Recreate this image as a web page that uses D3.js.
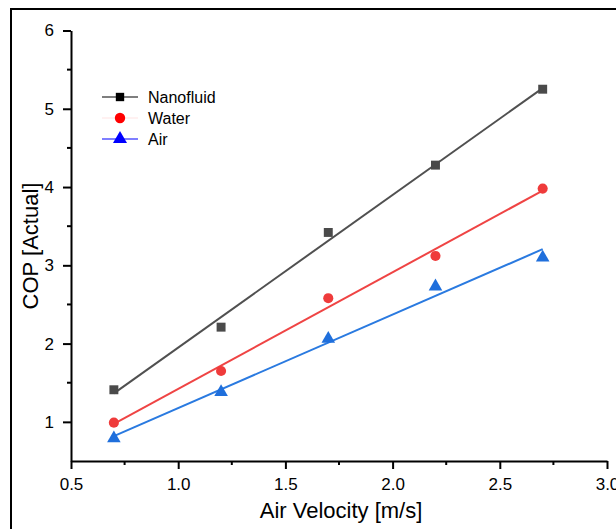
<!DOCTYPE html>
<html>
<head>
<meta charset="utf-8">
<script src="https://cdn.jsdelivr.net/npm/d3@7"></script>
<style>
	body { margin: 0; background: #fff; }
	#chart { width: 616px; height: 529px; }
</style>
</head>
<body>
<div id="chart"></div>
<script>
var id = 'chart';

// data
var velocity = [0.7, 1.2, 1.7, 2.2, 2.7];
var nanofluid = [1.41, 2.21, 3.42, 4.28, 5.25];
var water = [0.99, 1.65, 2.58, 3.12, 3.98];
var air = [0.79, 1.38, 2.06, 2.73, 3.1];
var seriesNames = ['Nanofluid', 'Water', 'Air'];
var xTicks = [0.5, 1.0, 1.5, 2.0, 2.5, 3.0];
var yTicks = [1, 2, 3, 4, 5, 6];

var series = [
	{name: seriesNames[0], values: nanofluid, shape: d3.symbolSquare, fill: '#4a4a4a', line: '#505050', legFill: '#000', legLine: '#000'},
	{name: seriesNames[1], values: water, shape: d3.symbolCircle, fill: '#ef3b3b', line: '#ef4444', legFill: '#ff0000', legLine: '#ffe4e4'},
	{name: seriesNames[2], values: air, shape: d3.symbolTriangle, fill: '#1f6fdc', line: '#2a7ae0', legFill: '#0000ff', legLine: '#0000ff'}
];

var svg = d3.select('#' + id)
	.append('svg')
	.attr('width', 616)
	.attr('height', 529)
	.style('font-family', '"Liberation Sans", Arial, sans-serif');

// frame around the figure (cropped at right / bottom)
svg.append('path')
	.attr('d', 'M11,529V9H616')
	.attr('fill', 'none')
	.attr('stroke', '#000')
	.attr('stroke-width', 2);

var x = d3.scaleLinear().domain([0.5, 3.0]).range([71, 607]);
var y = d3.scaleLinear().domain([0.5, 6]).range([461, 30.5]);

// minor ticks
var xMinor = d3.range(0.75, 3.0, 0.5);
var yMinor = d3.range(0.5, 6, 1).map(function(d) { return d + 1; }).filter(function(d) { return d < 6; });
yMinor = [1.5, 2.5, 3.5, 4.5, 5.5];

var xAxis = svg.append('g')
	.attr('transform', 'translate(0,461)')
	.call(d3.axisBottom(x).tickValues(xTicks).tickFormat(d3.format('.1f')).tickSize(8).tickSizeOuter(0).tickPadding(9));

xAxis.selectAll('.minor').data(xMinor).enter().append('line')
	.attr('class', 'minor')
	.attr('x1', function(d) { return x(d); })
	.attr('x2', function(d) { return x(d); })
	.attr('y1', 0).attr('y2', 4)
	.attr('stroke', '#000').attr('stroke-width', 2);

var yAxis = svg.append('g')
	.attr('transform', 'translate(71,0)')
	.call(d3.axisLeft(y).tickValues(yTicks).tickFormat(d3.format('d')).tickSize(8).tickSizeOuter(0).tickPadding(9));

yAxis.selectAll('.minor').data(yMinor).enter().append('line')
	.attr('class', 'minor')
	.attr('y1', function(d) { return y(d); })
	.attr('y2', function(d) { return y(d); })
	.attr('x1', 0).attr('x2', -4)
	.attr('stroke', '#000').attr('stroke-width', 2);

svg.selectAll('.domain').attr('stroke', '#000').attr('stroke-width', 2);
svg.selectAll('.tick line').attr('stroke', '#000').attr('stroke-width', 2);
svg.selectAll('.tick text')
	.style('font-size', '17px')
	.style('font-family', '"Liberation Sans", Arial, sans-serif')
	.attr('fill', '#000');

// axis titles
svg.append('text')
	.attr('x', 341)
	.attr('y', 518)
	.attr('text-anchor', 'middle')
	.style('font-size', '22px')
	.text('Air Velocity [m/s]');

svg.append('text')
	.attr('transform', 'translate(38,246) rotate(-90)')
	.attr('text-anchor', 'middle')
	.style('font-size', '22px')
	.text('COP [Actual]');

// linear fit of each series
function fit(vals) {
	var mx = d3.mean(velocity), my = d3.mean(vals);
	var sxy = d3.sum(velocity, function(v, i) { return (v - mx) * (vals[i] - my); });
	var sxx = d3.sum(velocity, function(v) { return (v - mx) * (v - mx); });
	var b = sxy / sxx;
	return function(v) { return my + b * (v - mx); };
}

var line = d3.line()
	.x(function(d) { return x(d[0]); })
	.y(function(d) { return y(d[1]); });

series.forEach(function(s) {
	var f = fit(s.values);
	var ends = d3.extent(velocity);
	svg.append('path')
		.datum(ends.map(function(v) { return [v, f(v)]; }))
		.attr('d', line)
		.attr('fill', 'none')
		.attr('stroke', s.line)
		.attr('stroke-width', 2);
});

series.forEach(function(s) {
	var sym = d3.symbol().type(s.shape).size(s.shape === d3.symbolTriangle ? 80 : 80);
	svg.selectAll('.pt-' + s.name)
		.data(s.values)
		.enter().append('path')
		.attr('class', 'pt-' + s.name)
		.attr('d', sym)
		.attr('transform', function(d, i) { return 'translate(' + x(velocity[i]) + ',' + y(d) + ')'; })
		.attr('fill', s.fill);
});

// legend
var legend = svg.append('g').attr('transform', 'translate(102,97)');
series.forEach(function(s, i) {
	var g = legend.append('g').attr('transform', 'translate(0,' + i * 21 + ')');
	g.append('line')
		.attr('x1', 0).attr('x2', 36)
		.attr('y1', 0).attr('y2', 0)
		.attr('stroke', s.legLine)
		.attr('stroke-width', 1.2);
	g.append('path')
		.attr('d', d3.symbol().type(s.shape).size(s.shape === d3.symbolSquare ? 70 : 85))
		.attr('transform', 'translate(18,0)')
		.attr('fill', s.legFill);
	g.append('text')
		.attr('x', 46)
		.attr('y', 6)
		.style('font-size', '16px')
		.text(s.name);
});
</script>
</body>
</html>
